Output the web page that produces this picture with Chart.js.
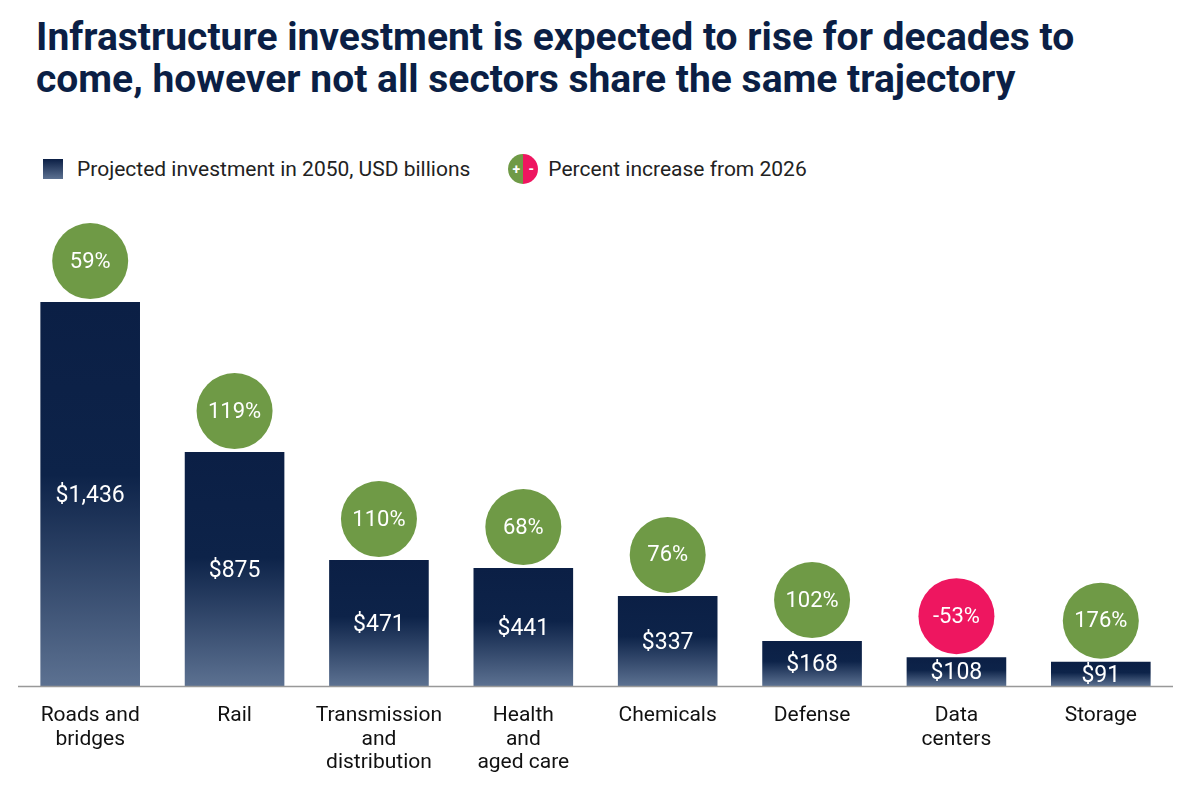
<!DOCTYPE html>
<html>
<head>
<meta charset="utf-8">
<script src="https://cdn.jsdelivr.net/npm/chart.js@4/dist/chart.umd.min.js"></script>
<style>
body { margin: 0; background: #fff; font-family: 'Liberation Sans Narrow', 'Roboto', sans-serif; }
#wrap { position: relative; width: 1200px; height: 800px; }
#titulo { position: absolute; left: 36px; top: 16px; margin: 0; font-size: 39px; line-height: 42px; font-weight: bold; color: #0b1f45; }
#leyenda { position: absolute; left: 43px; top: 154px; font-size: 21px; color: #222; display: flex; align-items: center; }
.cuadro { width: 20px; height: 20px; background: linear-gradient(#0b1f45, #5c7191); margin-right: 14px; }
.bola { width: 30px; height: 30px; border-radius: 50%; background: linear-gradient(90deg, #6f9a46 50%, #ee1660 50%); margin: 0 10px 0 38px; color: #fff; font-size: 14px; font-weight: bold; display: flex; justify-content: space-around; align-items: center; }
canvas { position: absolute; left: 0; top: 0; }
</style>
</head>
<body>
<div id="wrap">
<h1 id="titulo">Infrastructure investment is expected to rise for decades to<br>come, however not all sectors share the same trajectory</h1>
<div id="leyenda"><div class="cuadro"></div>Projected investment in 2050, USD billions<div class="bola"><span>+</span><span>-</span></div>Percent increase from 2026</div>
<canvas id="grafico" width="1200" height="800"></canvas>
</div>
<script>
// DATOS
var sectores = [['Roads and', 'bridges'], ['Rail'], ['Transmission', 'and', 'distribution'], ['Health', 'and', 'aged care'], ['Chemicals'], ['Defense'], ['Data', 'centers'], ['Storage']];
var inversion = [1436, 875, 471, 441, 337, 168, 108, 91];
var etiquetas = ['$1,436', '$875', '$471', '$441', '$337', '$168', '$108', '$91'];
var porcentajes = [59, 119, 110, 68, 76, 102, -53, 176];

var FUENTE = "'Liberation Sans Narrow', 'Roboto', sans-serif";

// DEGRADADO POR BARRA
function Color_Barra(ctx) {
    var chart = ctx.chart;
    var area = chart.chartArea;
    if (!area) return '#0b1f45';
    var yTop = chart.scales.y.getPixelForValue(ctx.raw);
    var g = chart.ctx.createLinearGradient(0, yTop, 0, area.bottom);
    g.addColorStop(0, '#0b1f45');
    g.addColorStop(0.45, '#0d2349');
    g.addColorStop(1, '#5c7191');
    return g;
}

// ETIQUETAS, CIRCULOS Y EJE
var plugin_extras = {
    id: 'extras',
    afterDatasetsDraw: function(chart) {
        var c = chart.ctx;
        var area = chart.chartArea;
        var meta = chart.getDatasetMeta(0);
        c.save();
        c.strokeStyle = '#999';
        c.lineWidth = 1.5;
        c.beginPath();
        c.moveTo(area.left, area.bottom + 0.5);
        c.lineTo(area.right, area.bottom + 0.5);
        c.stroke();
        meta.data.forEach(function(bar, i) {
            var x = bar.x;
            var yTop = bar.y;
            c.textAlign = 'center';
            c.textBaseline = 'middle';
            c.fillStyle = '#fff';
            c.font = '23px ' + FUENTE;
            c.fillText(etiquetas[i], x, (yTop + area.bottom) / 2 + 2);
            var cy = yTop - 41;
            c.beginPath();
            c.arc(x, cy, 38, 0, Math.PI * 2);
            c.fillStyle = porcentajes[i] < 0 ? '#ee1660' : '#6f9a46';
            c.fill();
            c.fillStyle = '#fff';
            c.font = '22px ' + FUENTE;
            c.fillText(porcentajes[i] + '%', x, cy + 1);
            c.fillStyle = '#111';
            c.font = '21px ' + FUENTE;
            sectores[i].forEach(function(linea, j) {
                c.fillText(linea, x, area.bottom + 30 + j * 23.5);
            });
        });
        c.restore();
    }
};

new Chart(document.getElementById('grafico'), {
    type: 'bar',
    data: {
        labels: sectores.map(function(s) { return s.join(' '); }),
        datasets: [{
            data: inversion,
            backgroundColor: Color_Barra,
            categoryPercentage: 1,
            barPercentage: 0.69
        }]
    },
    options: {
        responsive: false,
        animation: false,
        layout: { padding: { top: 220, bottom: 114, left: 18, right: 27 } },
        plugins: { legend: { display: false }, tooltip: { enabled: false } },
        scales: {
            x: { display: false },
            y: { display: false, min: 0, max: 1743 }
        }
    },
    plugins: [plugin_extras]
});
</script>
</body>
</html>
